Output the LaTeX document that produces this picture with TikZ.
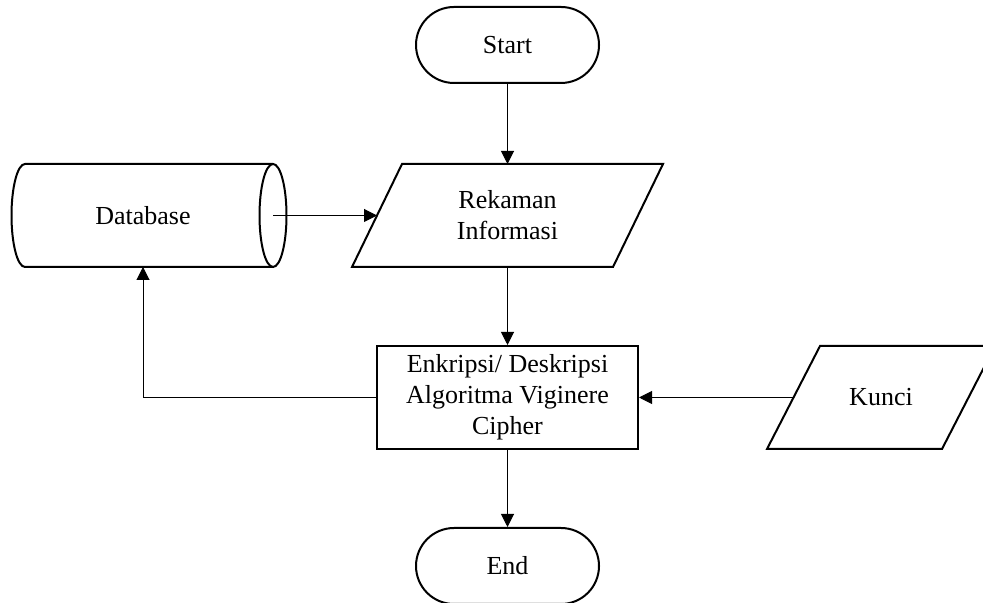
\documentclass[tikz,border=0pt]{standalone}
\usepackage{fontspec}
\setmainfont{Liberation Serif}
\usetikzlibrary{arrows.meta}

\begin{document}
\begin{tikzpicture}[x=0.5pt,y=0.5pt,
  outline/.style={line width=1pt},
  txt/.style={align=center,inner sep=0pt,font=\fontsize{13}{15.5}\selectfont},
  box/.style={txt,draw,outline},
  term/.style={box,rectangle,rounded corners=19pt,minimum width=91.5pt,minimum height=38pt},
  line/.style={line width=0.5pt,-{Triangle[length=6.5pt,width=6.5pt]}}]
 \clip (0,0) rectangle (983,603);
 % terminators
 \node[term] (start) at (507.5,558) {Start};
 \node[term] (end) at (507.5,37) {End};
 % process
 \node[box,rectangle,minimum width=130.5pt,minimum height=51.5pt] (enk) at (507.5,205.5) {Enkripsi/ Deskripsi\\Algoritma Viginere\\Cipher};
 % data
 \draw[outline] (402,439) -- (663,439) -- (613,336) -- (352,336) -- cycle;
 \node[txt] (rek) at (507.5,387.5) {Rekaman\\Informasi};
 \coordinate (rektop) at (507.5,439);
 \coordinate (rekleft) at (377,387.5);
 \coordinate (rekbot) at (507.5,336);
 \draw[outline] (820,257) -- (995,257) -- (942,154) -- (767,154) -- cycle;
 \node[txt] (kunci) at (881,205.5) {Kunci};
 \coordinate (kunleft) at (793.5,205.5);
 % database
 \draw[outline] (273,387.5) ellipse [x radius=13.5,y radius=51.5];
 \draw[outline] (273,439) -- (25,439) arc[start angle=90,end angle=270,x radius=13.5,y radius=51.5] -- (273,336);
 \node[txt] (db) at (143,387.5) {Database};
 \coordinate (dbout) at (273,387.5);
 \coordinate (dbin) at (143,336);
 % connectors
 \draw[line] (start) -- (rektop);
 \draw[line] (dbout) -- (rekleft);
 \draw[line] (rekbot) -- (enk);
 \draw[line] (enk.west) -| (dbin);
 \draw[line] (kunleft) -- (enk.east);
 \draw[line] (enk) -- (end);
\end{tikzpicture}
\end{document}
